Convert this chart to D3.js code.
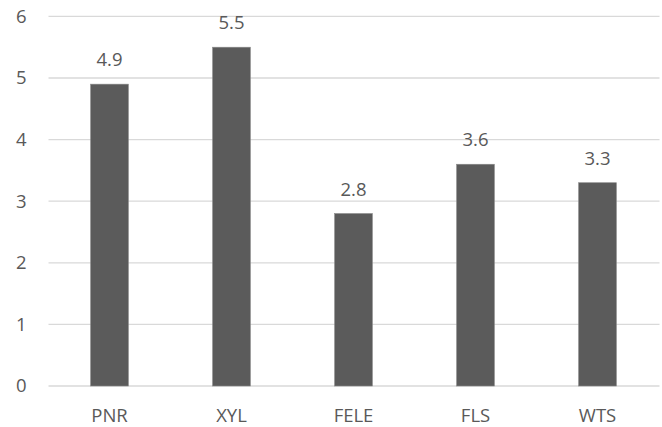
<!DOCTYPE html>
<html>
<head>
<meta charset="utf-8">
<script src="https://cdn.jsdelivr.net/npm/d3@7"></script>
<style>
  html, body { margin: 0; padding: 0; background: #fff; }
  svg { display: block; }
  text { font-family: "Open Sans", "Liberation Sans", sans-serif; fill: #595959; }
</style>
</head>
<body>
<svg id="chart" width="662" height="427"></svg>
<script>
const categories = ["PNR", "XYL", "FELE", "FLS", "WTS"];
const values = [4.9, 5.5, 2.8, 3.6, 3.3];
const yTicks = [0, 1, 2, 3, 4, 5, 6];

const W = 662, H = 427;
const margin = { left: 48.5, right: 3.5, top: 16.4, bottom: 41 };
const fontSize = 18.5;

const svg = d3.select("#chart");

const x = d3.scaleBand()
  .domain(categories)
  .range([margin.left, W - margin.right])
  .paddingInner(0.69)
  .paddingOuter(0.345);

const y = d3.scaleLinear()
  .domain([0, 6])
  .range([H - margin.bottom, margin.top]);

// horizontal gridlines
svg.append("g")
  .selectAll("line")
  .data(yTicks)
  .join("line")
  .attr("x1", margin.left)
  .attr("x2", W - margin.right + 1)
  .attr("y1", d => y(d))
  .attr("y2", d => y(d))
  .attr("stroke", "#d9d9d9")
  .attr("stroke-width", 1.3);

// y axis labels
const yAxis = d3.axisLeft(y).tickValues(yTicks).tickSize(0).tickPadding(0).tickFormat(d3.format("d"));
svg.append("g")
  .attr("transform", `translate(${margin.left - 22},0)`)
  .call(yAxis)
  .call(g => g.select(".domain").remove())
  .call(g => g.selectAll("text")
    .attr("font-size", fontSize)
    .attr("fill", "#595959")
    .style("font-family", "'Open Sans', 'Liberation Sans', sans-serif"));

// bars
svg.append("g")
  .selectAll("rect")
  .data(categories)
  .join("rect")
  .attr("x", d => x(d))
  .attr("width", x.bandwidth())
  .attr("y", (d, i) => y(values[i]))
  .attr("height", (d, i) => y(0) - y(values[i]))
  .attr("fill", "#5b5b5b")
  .attr("stroke", "#8a8a8a")
  .attr("stroke-width", 0.6);

// value labels
svg.append("g")
  .selectAll("text")
  .data(categories)
  .join("text")
  .attr("x", d => x(d) + x.bandwidth() / 2)
  .attr("y", (d, i) => y(values[i]) - 18)
  .attr("text-anchor", "middle")
  .attr("font-size", fontSize)
  .attr("fill", "#404040")
  .text((d, i) => d3.format(".1f")(values[i]));

// x axis labels
const xAxis = d3.axisBottom(x).tickSize(0).tickPadding(0);
svg.append("g")
  .attr("transform", `translate(0,${H - margin.bottom + 23})`)
  .call(xAxis)
  .call(g => g.select(".domain").remove())
  .call(g => g.selectAll("text")
    .attr("font-size", fontSize)
    .attr("fill", "#595959")
    .style("font-family", "'Open Sans', 'Liberation Sans', sans-serif"));
</script>
</body>
</html>
